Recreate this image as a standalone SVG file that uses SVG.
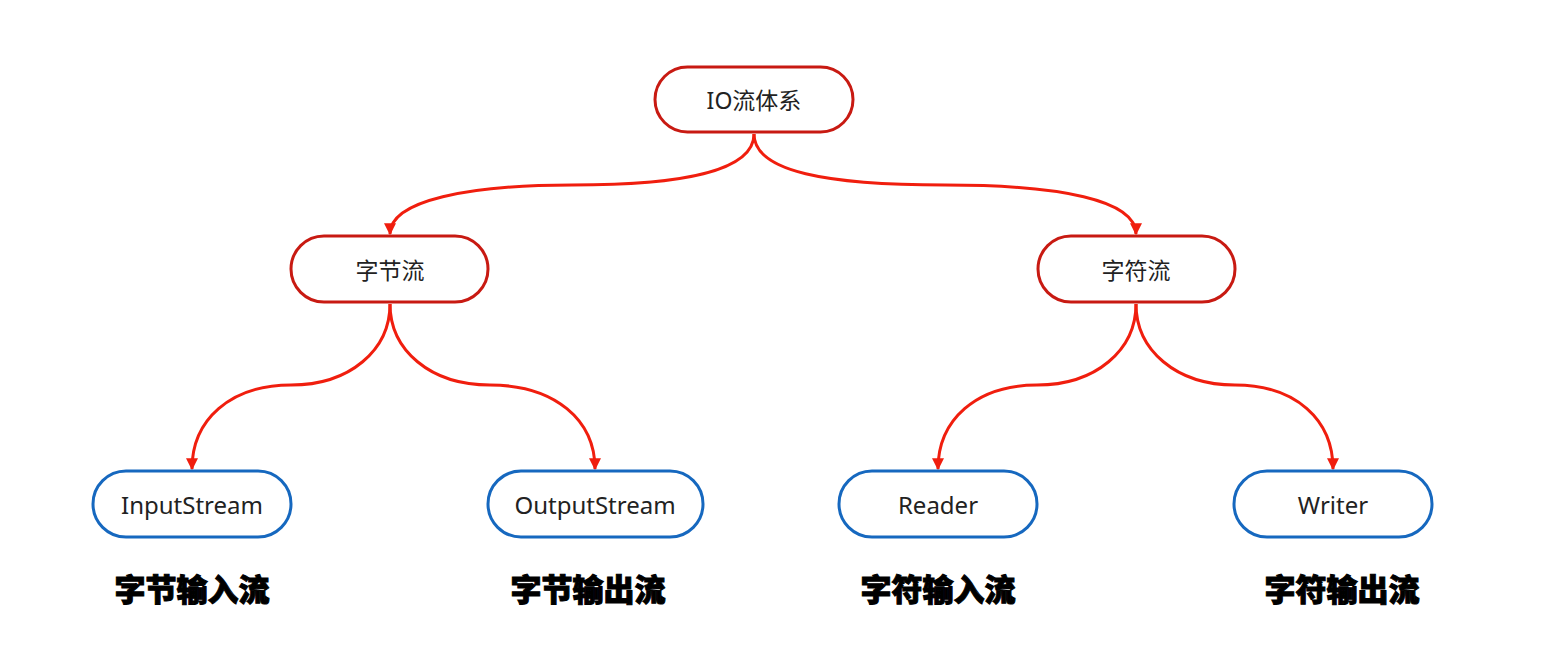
<svg xmlns="http://www.w3.org/2000/svg" width="1548" height="660" viewBox="0 0 1548 660">
<style>
.red rect{fill:#fff;stroke:#c81a12;stroke-width:3}
.blue rect{fill:#fff;stroke:#1668bf;stroke-width:3}
.lbl{font-family:"Noto Sans","Noto Sans CJK SC",sans-serif;font-size:23px;fill:#222;text-anchor:middle;dominant-baseline:central}
.blue .lbl{font-size:24px}
.cap{font-family:"Noto Sans CJK SC",sans-serif;font-size:31px;font-weight:900;fill:#000;text-anchor:middle;stroke:#000;stroke-width:1}
.edge{fill:none;stroke:#f01e0e;stroke-width:3}
</style>
<defs>
<marker id="ah" viewBox="0 0 10 10" refX="9" refY="5" markerWidth="4" markerHeight="4" orient="auto" markerUnits="strokeWidth">
<path d="M0,0 L10,5 L0,10 z" fill="#f01e0e"/>
</marker>
</defs>
<rect width="1548" height="660" fill="#fff"/>
<g id="connectors">
<path class="edge" marker-end="url(#ah)" d="M754,134 C754,172 680,185 572,185 C470,185 390,200 390,234"/>
<path class="edge" marker-end="url(#ah)" d="M754,134 C754,172 828,185 945,185 C1060,185 1136,200 1136,234"/>
<path class="edge" marker-end="url(#ah)" d="M390,304 C390,350 350,385 291,385 C230,385 192,420 192,469"/>
<path class="edge" marker-end="url(#ah)" d="M390,304 C390,350 430,385 490,385 C555,385 595,420 595,469"/>
<path class="edge" marker-end="url(#ah)" d="M1136,304 C1136,350 1096,385 1037,385 C976,385 938,420 938,469"/>
<path class="edge" marker-end="url(#ah)" d="M1136,304 C1136,350 1176,385 1235,385 C1296,385 1333,420 1333,469"/>
</g>
<g id="root" class="red"><rect x="655" y="67" width="198" height="65" rx="32.5"/><text class="lbl" x="754" y="100">IO流体系</text></g>
<g id="byte" class="red"><rect x="291" y="236" width="197" height="66" rx="33"/><text class="lbl" x="390" y="270">字节流</text></g>
<g id="char" class="red"><rect x="1038" y="236" width="197" height="66" rx="33"/><text class="lbl" x="1136" y="270">字符流</text></g>
<g id="inputstream" class="blue"><rect x="93" y="471" width="198" height="66" rx="33"/><text class="lbl" x="192" y="504">InputStream</text></g>
<g id="outputstream" class="blue"><rect x="488" y="471" width="215" height="66" rx="33"/><text class="lbl" x="595" y="504">OutputStream</text></g>
<g id="reader" class="blue"><rect x="839" y="471" width="198" height="66" rx="33"/><text class="lbl" x="938" y="504">Reader</text></g>
<g id="writer" class="blue"><rect x="1234" y="471" width="198" height="66" rx="33"/><text class="lbl" x="1333" y="504">Writer</text></g>
<g id="captions">
<text class="cap" x="192" y="601">字节输入流</text>
<text class="cap" x="588" y="601">字节输出流</text>
<text class="cap" x="938" y="601">字符输入流</text>
<text class="cap" x="1342" y="601">字符输出流</text>
</g>
</svg>
